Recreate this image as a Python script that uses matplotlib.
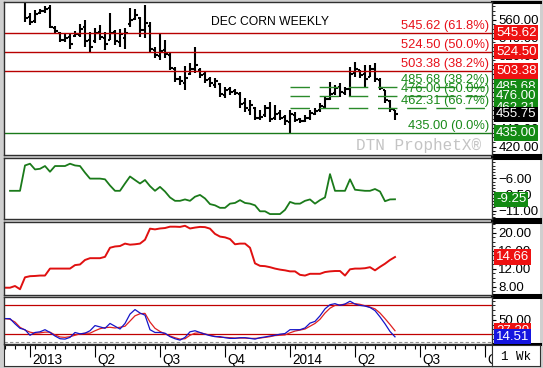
import numpy as np
import matplotlib.pyplot as plt

plt.rcParams['font.family'] = ['Liberation Sans', 'DejaVu Sans']

# weekly Dec corn bars, oldest first (the first few sit above the visible range)
opens = [605, 598, 606, 594, 585, 563, 558, 567, 569, 573, 551, 545, 537, 541, 542, 543,
         552, 537, 536, 546, 540, 538, 546, 535, 540, 555, 561, 562, 549, 553, 527, 520,
         527, 521, 505, 494, 490, 500, 505, 504, 500, 494, 488, 489, 477, 483, 481, 478,
         468, 460, 462, 451, 455, 463, 451, 457, 453, 447, 455, 450, 448, 451, 456, 460,
         464, 472, 479, 486, 479, 483, 501, 504, 500, 497, 506, 493, 482, 470, 460]
highs = [615, 620, 612, 600, 592, 567.3, 570.6, 571.7, 575, 576.1, 553, 546.4, 545.3, 545.3,
         547.5, 555.2, 559.6, 546.4, 550.8, 554.1, 546.4, 567.3, 548.6, 549.7, 550.8, 572.8,
         571.7, 562.9, 576.1, 557.4, 529.8, 545.3, 537.5, 523.2, 507.8, 497.8, 508.9, 512.2,
         529.8, 506.7, 502.3, 496.7, 495.6, 490.1, 485.7, 485.7, 483.5, 480.2, 473.6, 471.4,
         463.7, 460.4, 465.9, 469.2, 465.9, 460.4, 454.8, 460.4, 458.2, 451.5, 454.8, 460.4,
         462.6, 468.1, 474.7, 491.2, 487.9, 490.1, 485.7, 507.8, 513.3, 504.5, 510, 510,
         512.2, 495.6, 482.4, 471.4, 460.4]
lows = [592, 596, 590, 582, 557.4, 554.1, 556.3, 566.2, 567.3, 550.8, 545.3, 535.3, 535.3,
        527.6, 540.8, 540.8, 529.8, 523.2, 534.2, 537.5, 526.5, 537.5, 532, 529.8, 527.6,
        551.9, 559.6, 540.8, 539.7, 523.2, 517.7, 515.5, 517.7, 504.5, 491.2, 487.9, 482.4,
        499, 501.2, 495.6, 490.1, 485.7, 484.6, 474.7, 473.6, 476.9, 476.9, 462.6, 458.2,
        454.8, 449.3, 449.3, 452.6, 447.1, 449.3, 449.3, 443.8, 435, 447.1, 446, 447.1,
        449.3, 454.8, 458.2, 462.6, 471.4, 476.9, 474.7, 476.9, 474.7, 496.7, 495.6, 485.7,
        496.7, 491.2, 482.4, 468.1, 458.2, 449.3]
closes = [600, 608, 595, 588, 562, 557, 566, 569, 572, 552, 547, 538, 540, 533, 544, 550,
          536, 530, 545, 541, 533, 545, 536, 544, 545, 560, 565, 548, 556, 528, 521, 525,
          522, 507, 494, 492, 496, 506, 510, 499, 493, 490, 492, 478, 482, 480, 479, 467,
          462, 466, 452, 453, 462, 450, 456, 452, 448, 456, 449, 448, 452, 457, 459, 465,
          472, 478, 485, 480, 484, 500, 505, 499, 495, 505, 494, 485, 471, 461, 455.75]

# lower studies, one value per week
green_osc = [np.nan, -7.93, -7.93, -7.93, -3.98, -3.71, -4.6, -4.5, -4.07, -4.96, -4.07,
             -4.07, -4.07, -3.71, -3.98, -4.07, -5.1, -6.03, -6.03, -6.03, -6.14, -7.1,
             -7.93, -7.93, -6.79, -5.7, -6.25, -6.79, -6.25, -7.2, -7.93, -7.32, -8.04,
             -8.96, -9.49, -9.49, -9.27, -9.49, -8.85, -8.57, -9.12, -10.0, -10.19, -10.58,
             -10.58, -9.93, -9.82, -9.38, -9.82, -9.93, -10.19, -11.12, -11.12, -11.55,
             -11.55, -11.55, -10.9, -9.66, -9.93, -9.93, -9.49, -9.27, -9.93, -9.38, -8.96,
             -5.33, -7.93, -7.93, -7.93, -6.14, -7.76, -7.85, -7.93, -7.93, -7.65, -8.04,
             -9.55, -9.27, -9.25]
red_osc = [7.84, 7.84, 8.22, 7.5, 10.15, 10.4, 10.45, 10.54, 10.54, 12.09,
           12.09, 12.09, 12.09, 12.09, 12.86, 13.0, 14.0, 14.4, 14.4, 14.4,
           14.7, 16.72, 17.0, 17.1, 17.64, 17.4, 17.49, 17.64, 18.5, 20.96,
           20.8, 21.0, 21.1, 21.4, 21.4, 21.35, 21.6, 21.0, 21.2, 21.35,
           21.3, 20.96, 19.8, 19.2, 19.03, 18.65, 17.49, 17.64, 17.64, 16.72,
           13.25, 12.7, 12.63, 12.4, 12.09, 11.86, 11.7, 11.47, 11.47, 10.7,
           10.54, 10.93, 10.93, 10.93, 11.32, 11.47, 11.55, 11.55, 10.54, 11.93,
           12.09, 12.09, 12.17, 12.4, 11.7, 12.47, 13.17, 14.0, 14.66]
stoch_k = [52.5, 52.5, 41.7, 32.3, 29.4, 17.8, 23.6, 25.0, 29.4, 23.6,
           16.3, 10.6, 9.8, 13.4, 23.6, 20.7, 22.1, 27.2, 38.0, 35.2,
           32.3, 42.4, 36.6, 30.8, 42.4, 61.9, 71.3, 64.1, 59.7, 29.4,
           23.6, 23.6, 22.1, 14.9, 10.6, 7.7, 13.4, 25.0, 27.2, 23.6,
           20.0, 17.1, 14.9, 14.9, 12.7, 11.3, 11.3, 12.7, 12.7, 11.3,
           9.8, 12.7, 14.2, 16.3, 17.8, 20.0, 21.4, 29.4, 29.4, 29.4,
           33.0, 43.1, 46.7, 58.3, 72.8, 81.4, 83.6, 80.0, 82.9, 88.7,
           82.9, 80.0, 78.6, 75.7, 69.1, 56.1, 41.7, 25.7, 14.51]
stoch_d = [52.5, 51.1, 45.3, 34.4, 28.6, 24.3, 22.1, 22.9, 24.3, 24.3,
           18.5, 14.2, 13.4, 14.9, 17.8, 20.7, 22.1, 22.1, 27.2, 31.5,
           33.7, 34.4, 33.0, 34.4, 36.6, 47.4, 58.3, 62.6, 63.4, 45.3,
           32.3, 25.7, 20.7, 16.3, 12.7, 9.8, 10.6, 17.8, 22.1, 22.9,
           20.7, 17.8, 15.6, 13.4, 13.4, 12.7, 12.0, 12.0, 12.0, 11.3,
           11.3, 12.0, 13.4, 14.9, 17.1, 17.8, 18.5, 22.9, 26.5, 28.6,
           30.8, 36.6, 42.4, 51.1, 64.1, 74.2, 80.0, 81.4, 82.2, 83.6,
           83.6, 82.2, 79.3, 76.4, 72.8, 64.1, 52.5, 40.2, 27.2]

fib_red = [545.62, 524.50, 503.38]
fib_red_pct = ['61.8%', '50.0%', '38.2%']
fib_green = [485.68, 476.00, 462.31]
fib_green_pct = ['38.2%', '50.0%', '66.7%']
base_level = 435.00

quarter_labels = ['2013', 'Q2', 'Q3', 'Q4', '2014', 'Q2', 'Q3', 'Q4']
quarter_weeks = [5, 18, 31, 44, 57, 70, 83, 96]

weeks = np.arange(len(closes))

W, H = 543, 368
def box(x0, y0, x1, y1):
    return [x0 / W, 1 - y1 / H, (x1 - x0) / W, (y1 - y0) / H]

fig = plt.figure(figsize=(W / 100, H / 100), dpi=100, facecolor='#cfcfcf')

L, R, RE = 4, 492, 540
xlim = (-0.2, 97.4)
spans = [(2, 155, (410.7, 579.4)), (158, 219, (-12.32, -2.82)),
         (222, 295, (6.22, 22.44)), (297, 344, (-0.4, 97.5))]

axs = []
for top, bot, yl in spans:
    lab = fig.add_axes(box(R, top, RE, bot))
    lab.set_xticks([])
    lab.set_yticks([])
    lab.spines['left'].set_visible(False)
    lab.spines['right'].set_visible(False)
    lab.spines['top'].set_linewidth(2.2)
    lab.spines['bottom'].set_linewidth(2.2)
    ax = fig.add_axes(box(L, top, R, bot))
    ax.set_xlim(*xlim)
    ax.set_ylim(*yl)
    ax.set_xticks([])
    ax.yaxis.tick_right()
    ax.tick_params(axis='y', direction='out', length=3, width=0.8, pad=1.5,
                   labelsize=9.5, colors='black')
    ax.tick_params(axis='y', which='minor', direction='out', length=1.8, width=0.6)
    for s in ax.spines.values():
        s.set_color('#303030')
        s.set_linewidth(1.0)
    axs.append(ax)

ax1, ax2, ax3, ax4 = axs

def value_box(ax, val, txt, color):
    ax.annotate(txt, xy=(1, val), xycoords=('axes fraction', 'data'),
                xytext=(4, 0), textcoords='offset pixels', ha='left', va='center',
                fontsize=9.5, color='white', annotation_clip=False, zorder=10,
                bbox=dict(boxstyle='square,pad=0.12', fc=color, ec='none'))

# price panel
ax1.vlines(weeks, lows, highs, color='black', lw=1.5)
ax1.hlines(opens, weeks - 0.5, weeks, color='black', lw=1.5)
ax1.hlines(closes, weeks, weeks + 0.5, color='black', lw=1.5)
for lvl, pct in zip(fib_red, fib_red_pct):
    ax1.axhline(lvl, color='#b80000', lw=1.0)
    ax1.annotate(f'{lvl:.2f} ({pct})', xy=(1, lvl), xycoords=('axes fraction', 'data'),
                 xytext=(-3, 1), textcoords='offset pixels', ha='right', va='bottom',
                 fontsize=9.3, color='#e8101a')
low_week = int(np.argmin(lows))
for lvl, pct in zip(fib_green, fib_green_pct):
    ax1.hlines(lvl, low_week, xlim[1], color='#2a8a2a', lw=1.0, linestyles=(0, (14, 7)))
    ax1.annotate(f'{lvl:.2f} ({pct})', xy=(1, lvl), xycoords=('axes fraction', 'data'),
                 xytext=(-3, 1), textcoords='offset pixels', ha='right', va='bottom',
                 fontsize=9.3, color='#1a8a1a')
ax1.axhline(base_level, color='#1a7a1a', lw=1.0)
ax1.annotate(f'{base_level:.2f} (0.0%)', xy=(1, base_level), xycoords=('axes fraction', 'data'),
             xytext=(-3, 1), textcoords='offset pixels', ha='right', va='bottom',
             fontsize=9.3, color='#1a8a1a')
ax1.text(0.545, 0.87, 'DEC CORN WEEKLY', transform=ax1.transAxes, ha='center',
         va='center', fontsize=8.7, color='black')
ax1.text(0.978, 0.06, 'DTN ProphetX\u00ae', transform=ax1.transAxes, ha='right',
         va='center', fontsize=11.5, color='#c4c4c4', family='Liberation Mono')
ax1.set_yticks(np.arange(420, 561, 20))
ax1.set_yticks(np.arange(415, 580, 5), minor=True)
ax1.yaxis.set_major_formatter('{x:.2f}')
for lvl in fib_red:
    value_box(ax1, lvl, f'{lvl:.2f}', '#ee1111')
for lvl in fib_green:
    value_box(ax1, lvl, f'{lvl:.2f}', '#138a13')
value_box(ax1, base_level, f'{base_level:.2f}', '#138a13')
value_box(ax1, closes[-1], f'{closes[-1]:.2f}', 'black')

# green study
ax2.plot(weeks, green_osc, color='#1a7a1a', lw=1.3)
ax2.set_yticks([-11, -8.5, -6])
ax2.set_yticks(np.arange(-12, -2.9, 0.5), minor=True)
ax2.yaxis.set_major_formatter('{x:.2f}')
value_box(ax2, green_osc[-1], f'{green_osc[-1]:.2f}', '#138a13')

# red study
ax3.plot(weeks, red_osc, color='#e01010', lw=1.4)
ax3.set_yticks([8, 12, 16, 20])
ax3.set_yticks(np.arange(7, 23, 1), minor=True)
ax3.yaxis.set_major_formatter('{x:.2f}')
value_box(ax3, red_osc[-1], f'{red_osc[-1]:.2f}', '#ee1111')

# stochastics
ax4.axhline(80, color='#c00000', lw=0.9)
ax4.axhline(20, color='#c00000', lw=0.9)
ax4.axhline(4, color='#909090', lw=0.8, ls=(0, (3, 2)))
ax4.plot(weeks, stoch_d, color='#e02020', lw=0.9)
ax4.plot(weeks, stoch_k, color='#1515c8', lw=0.9)
ax4.set_yticks([50])
ax4.set_yticks(np.arange(0, 100, 10), minor=True)
ax4.yaxis.set_major_formatter('{x:.2f}')
value_box(ax4, stoch_d[-1], f'{stoch_d[-1]:.2f}', '#ee1111')
value_box(ax4, stoch_k[-1], f'{stoch_k[-1]:.2f}', '#1515e0')

# date strip
dax = fig.add_axes(box(L, 345, R, 366))
dax.set_xlim(*xlim)
dax.set_ylim(0, 1)
dax.set_xticks([])
dax.set_yticks([])
for s in dax.spines.values():
    s.set_color('#303030')
dax.vlines(np.arange(0, 98, 2), 0.82, 1, color='black', lw=0.8)
dax.vlines(quarter_weeks, 0.45, 1, color='black', lw=0.8)
for wk, lab in zip(quarter_weeks, quarter_labels):
    dax.text(wk + 0.5, 0.28, lab, ha='left', va='center', fontsize=9.8, clip_on=True)

wax = fig.add_axes(box(R, 345, RE, 366))
wax.set_xticks([])
wax.set_yticks([])
for s in wax.spines.values():
    s.set_color('#303030')
wax.text(0.5, 0.45, '1 Wk', ha='center', va='center', fontsize=9,
         family='Liberation Mono', transform=wax.transAxes)

fig.savefig('out.png', dpi=100, facecolor=fig.get_facecolor())
